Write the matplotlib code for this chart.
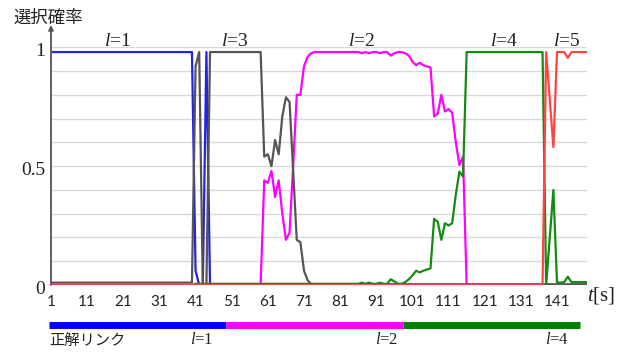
import matplotlib
matplotlib.use('Agg')
import matplotlib.pyplot as plt
import matplotlib.transforms as mtransforms
import numpy as np

plt.rcParams['mathtext.fontset'] = 'custom'
plt.rcParams['mathtext.rm'] = 'Liberation Serif'
plt.rcParams['mathtext.it'] = 'Liberation Serif:italic'

# time steps t = 1..149
t = np.arange(1, 150)

# selection probability per link
p_l1 = [0.98] * 40 + [0.06, 0.0, 0.0, 0.98, 0.0] + [0.0] * 104
p_l3 = ([0.01] * 40 + [0.92, 0.98, 0.0, 0.0, 0.98] + [0.98] * 14
        + [0.54, 0.55, 0.50, 0.61, 0.55, 0.71, 0.79, 0.77, 0.48, 0.19, 0.18, 0.06, 0.02]
        + [0.003] * 77)
p_l2 = ([0.0] * 59
        + [0.44, 0.43, 0.48, 0.37, 0.44, 0.30, 0.19, 0.22, 0.50, 0.80, 0.80, 0.92, 0.96, 0.975]
        + [0.98] * 13
        + [0.975, 0.98, 0.975, 0.98, 0.98, 0.975, 0.98, 0.98, 0.965, 0.975, 0.98, 0.98, 0.975, 0.965]
        + [0.94, 0.925, 0.935, 0.925, 0.92, 0.915, 0.71, 0.72, 0.80, 0.73, 0.74, 0.725, 0.60, 0.505, 0.54]
        + [0.0] * 34)
p_l4 = ([0.0] * 40 + [0.005] * 46
        + [0.01, 0.005, 0.01, 0.005, 0.005, 0.01, 0.005, 0.005, 0.024, 0.015, 0.005, 0.005, 0.012, 0.024]
        + [0.04, 0.06, 0.053, 0.06, 0.065, 0.07, 0.278, 0.266, 0.19, 0.26, 0.25, 0.26, 0.38, 0.477, 0.456]
        + [0.98] * 22
        + [0.0, 0.2, 0.40, 0.01, 0.01, 0.012, 0.035, 0.012, 0.012, 0.012, 0.012, 0.012])
p_l5 = [0.0] * 137 + [0.98, 0.78, 0.58, 0.98, 0.98, 0.98, 0.955, 0.98] + [0.98] * 4

series = [
    (p_l1, '#2323e6'),
    (p_l2, '#ff00ff'),
    (p_l3, '#555555'),
    (p_l4, '#138a13'),
    (p_l5, '#ff4444'),
]

xtick_vals = list(range(1, 142, 10))
ytick_vals = [0, 0.5, 1]
ytick_labels = ['0', '0.5', '1']

top_labels = ['1', '3', '2', '4', '5']
top_label_x = [19.4, 51.8, 86.9, 126.2, 143.8]

# correct link bar
bar_edges = [0.5, 49.5, 98.5, 147.5]
bar_colors = ['#0000ff', '#ff00ff', '#008000']
bar_links = ['1', '2', '4']
bar_label_x = [42.6, 93.9, 141.0]

fig = plt.figure(figsize=(6.26, 3.53), dpi=100)
ax = fig.add_axes([51 / 626, 68 / 353, 536 / 626, 237.7 / 353])

for vals, col in series:
    ax.plot(t, vals, color=col, lw=1.6, zorder=3)

ax.set_xlim(1, 149.3)
ax.set_ylim(0, 1)
ax.set_yticks(np.arange(0, 1.01, 0.1))
ax.set_yticklabels([])
ax.grid(axis='y', color='#d9d9d9', lw=1.0, zorder=0)
ax.tick_params(axis='y', length=0)
ax.set_xticks(xtick_vals)
ax.set_xticklabels([str(v) for v in xtick_vals], fontfamily='Lato', fontsize=11, color='#222222')
ax.tick_params(axis='x', length=0, pad=7)
for s in ax.spines.values():
    s.set_visible(False)

# y axis with arrow
ax.annotate('', xy=(0, 1.094), xytext=(0, 0), xycoords='axes fraction',
            arrowprops=dict(arrowstyle='-|>', color='#555555', lw=1.3, mutation_scale=7,
                            shrinkA=0, shrinkB=0), zorder=4)

off = mtransforms.ScaledTranslation(-6 / 100, -4 / 100, fig.dpi_scale_trans)
for v, lab in zip(ytick_vals, ytick_labels):
    ax.text(0, v, lab, transform=ax.get_yaxis_transform() + off, ha='right', va='center',
            fontfamily='Liberation Serif', fontsize=14, color='#222222')

for lab, x in zip(top_labels, top_label_x):
    ax.text(x, 1.004, r'$l$=' + lab, transform=ax.get_xaxis_transform(), ha='center',
            va='baseline', fontfamily='Liberation Serif', fontsize=14, color='#222222')

xt = ax.get_xaxis_transform()
for i, col in enumerate(bar_colors):
    ax.plot([bar_edges[i], bar_edges[i + 1]], [-0.168, -0.168], transform=xt, color=col,
            lw=5, solid_capstyle='butt', clip_on=False)
for lab, x in zip(bar_links, bar_label_x):
    ax.text(x, -0.233, r'$l$=' + lab, transform=xt, ha='center', va='center',
            fontfamily='Liberation Serif', fontsize=12, color='#222222')
ax.text(0.5, -0.233, '正解リンク', transform=xt, ha='left', va='center',
        fontfamily='Noto Sans CJK JP', fontsize=11, color='#222222')

fig.text(13 / 626, 1 - 18 / 353, '選択確率', ha='left', va='center',
         fontfamily='Noto Sans CJK JP', fontsize=12.5, color='#222222')
fig.text(587 / 626, 1 - 295 / 353, r'$t$[s]', ha='left', va='center',
         fontfamily='Liberation Serif', fontsize=15, color='#222222')

fig.savefig('out.png', dpi=100)
